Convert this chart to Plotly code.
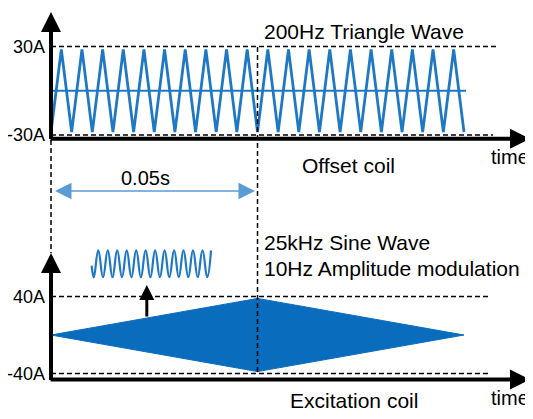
import plotly.graph_objects as go

# ---------------- data (time in ms, current in A) ----------------
tri_t = [0, 2.5, 5, 7.5, 10, 12.5, 15, 17.5, 20, 22.5, 25, 27.5, 30, 32.5, 35, 37.5,
         40, 42.5, 45, 47.5, 50, 52.5, 55, 57.5, 60, 62.5, 65, 67.5, 70, 72.5, 75, 77.5,
         80, 82.5, 85, 87.5, 90, 92.5, 95, 97.5, 100]
tri_a = [-28, 28, -28, 28, -28, 28, -28, 28, -28, 28, -28, 28, -28, 28, -28, 28,
         -28, 28, -28, 28, -28, 28, -28, 28, -28, 28, -28, 28, -28, 28, -28, 28,
         -28, 28, -28, 28, -28, 28, -28, 28, -28]

mid_t = [0, 100.5]
mid_a = [0, 0]

env_t = [0, 50, 100, 50, 0]
env_a = [0, 38, 0, -38, 0]

sine_t = [9.85, 10.36, 11.45, 12.59, 13.75, 14.89, 16.03, 17.19, 18.33, 19.47,
          20.63, 21.77, 22.91, 24.07, 25.21, 26.37, 27.51, 28.64, 29.81, 30.94,
          32.08, 33.24, 34.38, 35.52, 36.68, 37.82, 38.74]
sine_a = [72, 60, 88, 60, 88, 60, 88, 60, 88, 60, 88, 60, 88, 60, 88, 60, 88, 60,
          88, 60, 88, 60, 88, 60, 88, 60, 88]

top_tick_vals = [30, -30]
top_tick_text = ["30A", "-30A"]
bot_tick_vals = [40, -40]
bot_tick_text = ["40A", "-40A"]

top_levels = [30, -30]
top_level_end = [108.0, 107.0]
bot_levels = [40, -40]
bot_level_end = [106.3, 106.3]

period_mark = 50          # 0.05 s
arrow_base_t = 23.2       # small arrow position in the excitation panel

# ---------------- geometry helpers ----------------
W, H = 533, 419
OFF = 8                   # page body margin: figure starts 8px in from the window
X0 = 51                   # window pixel of t = 0
PX_PER_MS = 4.13
split_px = 200            # window pixel row dividing the two panels
TXT_PAD = 3               # annotation box padding

def py_top(py):           # window pixel row -> current in top panel
    return (90.75 - py) / 1.475

def py_bot(py):
    return (335 - py) / 0.9625

def paper_y(py):
    return 1 - (py - OFF) / H

def px_t(px):
    return (px - X0) / PX_PER_MS

WAVE = "#1F78C4"
FILL = "#0A6CBC"
FONT = "Liberation Sans, Arial, sans-serif"

fig = go.Figure()

# Excitation envelope (filled diamond)
fig.add_trace(go.Scatter(x=env_t, y=env_a, xaxis="x", yaxis="y2", mode="lines",
                         fill="toself", fillcolor=FILL, line=dict(color=FILL, width=1),
                         hoverinfo="skip"))
# Small sine inset
fig.add_trace(go.Scatter(x=sine_t, y=sine_a, xaxis="x", yaxis="y2", mode="lines",
                         line=dict(color=WAVE, width=2.2, shape="spline", smoothing=1.3),
                         hoverinfo="skip"))
# Triangle wave
fig.add_trace(go.Scatter(x=tri_t, y=tri_a, xaxis="x", yaxis="y", mode="lines",
                         line=dict(color=WAVE, width=2.8), hoverinfo="skip"))
fig.add_trace(go.Scatter(x=mid_t, y=mid_a, xaxis="x", yaxis="y", mode="lines",
                         line=dict(color=WAVE, width=2), hoverinfo="skip"))

shapes = []
DASH = dict(color="black", width=1.5, dash="5px,3px")
for lv, end in zip(top_levels, top_level_end):
    shapes.append(dict(type="line", xref="x", yref="y", x0=0, x1=end, y0=lv, y1=lv,
                       line=DASH, layer="above"))
for lv, end in zip(bot_levels, bot_level_end):
    shapes.append(dict(type="line", xref="x", yref="y2", x0=0, x1=end, y0=lv, y1=lv,
                       line=DASH, layer="above"))
shapes.append(dict(type="line", xref="x", yref="paper", x0=0, x1=0,
                   y0=paper_y(140), y1=paper_y(253), line=DASH))
shapes.append(dict(type="line", xref="x", yref="paper", x0=period_mark, x1=period_mark,
                   y0=paper_y(47), y1=paper_y(372), line=DASH, layer="above"))

ann = []
def arrow(x, y, ax, ay, yref, width=4, size=1.0, color="black", **kw):
    d = dict(x=x, y=y, ax=ax, ay=ay, xref="x", yref=yref, axref="x", ayref=yref,
             text="", showarrow=True, arrowhead=2, arrowsize=size, arrowwidth=width,
             arrowcolor=color)
    d.update(kw)
    ann.append(d)

# axes with arrows
arrow(0, py_top(12), 0, py_top(140.5), "y")
arrow(px_t(530), py_top(138.7), px_t(49), py_top(138.7), "y")
arrow(0, py_bot(253), 0, py_bot(381.5), "y2")
arrow(px_t(530), py_bot(379.5), px_t(49), py_bot(379.5), "y2")
# small arrow from envelope to sine inset
arrow(arrow_base_t, py_bot(285), arrow_base_t, 38 * arrow_base_t / 50, "y2", width=3, size=1.0)
# 0.05 s double arrow
arrow(period_mark - 0.6, py_top(191), 0.6, py_top(191), "y", width=1.5, size=2.2,
      color="#5B9BD5", arrowside="end+start", startarrowhead=2, startarrowsize=2.2)

def text(s, px, y, yref, size=21, xanchor="left"):
    if xanchor == "left":
        px -= TXT_PAD
    ann.append(dict(x=px_t(px), y=y, xref="x", yref=yref, text=s, showarrow=False,
                    xanchor=xanchor, yanchor="middle",
                    font=dict(family=FONT, size=size, color="black")))

text("200Hz Triangle Wave", 265, py_top(31), "y")
text("Offset coil", 303, py_top(165), "y")
text("time", 492, py_top(157), "y", size=20)
text("0.05s", 145, py_top(177.5), "y", size=20, xanchor="center")
text("25kHz Sine Wave", 265, py_bot(243), "y2")
text("10Hz Amplitude modulation", 265, py_bot(268), "y2")
text("Excitation coil", 291, py_bot(400), "y2")
text("time", 492, py_bot(398), "y2", size=20)

dom_split = 1 - (split_px - OFF) / H
axpos = (X0 - OFF) / W
fig.update_layout(
    width=W, height=H, autosize=False,
    margin=dict(l=0, r=0, t=0, b=0),
    paper_bgcolor="white", plot_bgcolor="white",
    showlegend=False,
    xaxis=dict(range=[px_t(OFF), px_t(W + OFF)], visible=False, domain=[0, 1], anchor="y"),
    yaxis=dict(domain=[dom_split, 1], range=[py_top(split_px), py_top(OFF)],
               anchor="free", position=axpos, showgrid=False, zeroline=False,
               showline=False, ticks="", tickvals=top_tick_vals, ticktext=top_tick_text,
               tickfont=dict(family=FONT, size=18, color="black"), ticklabelstandoff=6),
    yaxis2=dict(domain=[0, dom_split], range=[py_bot(H + OFF), py_bot(split_px)],
                anchor="free", position=axpos, showgrid=False, zeroline=False,
                showline=False, ticks="", tickvals=bot_tick_vals, ticktext=bot_tick_text,
                tickfont=dict(family=FONT, size=18, color="black"), ticklabelstandoff=6),
    shapes=shapes,
    annotations=ann,
)

fig.write_html("out.html")
